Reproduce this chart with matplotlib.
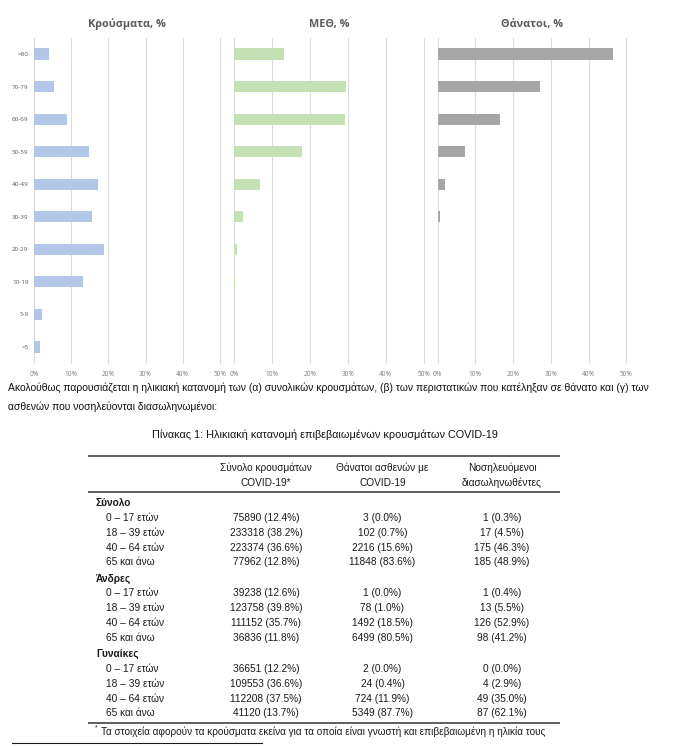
import matplotlib
matplotlib.use("Agg")
import matplotlib.pyplot as plt
from matplotlib import font_manager

# --- data -------------------------------------------------------------
age_groups = [">80", "70-79", "60-69", "50-59", "40-49", "30-39", "20-29", "10-19", "5-9", "<5"]
cases_share = [4.0, 5.4, 8.9, 14.9, 17.2, 15.7, 18.8, 13.1, 2.2, 1.6]
icu_share = [13.0, 29.4, 29.2, 18.0, 6.8, 2.2, 0.8, 0.2, 0.0, 0.0]
deaths_share = [46.4, 27.1, 16.5, 7.3, 1.9, 0.6, 0.2, 0.1, 0.0, 0.1]
x_ticks = [0, 10, 20, 30, 40, 50]

panel_titles = ["Κρούσματα, %", "ΜΕΘ, %", "Θάνατοι, %"]
panel_colors = ["#b4c6e7", "#c5e0b4", "#a6a6a6"]

paragraph = ["Ακολούθως παρουσιάζεται η ηλικιακή κατανομή των (α) συνολικών κρουσμάτων, (β) των περιστατικών που κατέληξαν σε θάνατο και (γ) των",
             "ασθενών που νοσηλεύονται διασωληνωμένοι:"]
caption = "Πίνακας 1: Ηλικιακή κατανομή επιβεβαιωμένων κρουσμάτων COVID-19"

col_headers = [["Σύνολο κρουσμάτων", "COVID-19*"],
               ["Θάνατοι ασθενών με", "COVID-19"],
               ["Νοσηλευόμενοι", "διασωληνωθέντες"]]
groups = ["Σύνολο", "Άνδρες", "Γυναίκες"]
age_rows = ["0 – 17 ετών", "18 – 39 ετών", "40 – 64 ετών", "65 και άνω"]
cases = [[75890, 233318, 223374, 77962], [39238, 123758, 111152, 36836], [36651, 109553, 112208, 41120]]
cases_pct = [[12.4, 38.2, 36.6, 12.8], [12.6, 39.8, 35.7, 11.8], [12.2, 36.6, 37.5, 13.7]]
deaths = [[3, 102, 2216, 11848], [1, 78, 1492, 6499], [2, 24, 724, 5349]]
deaths_pct = [[0.0, 0.7, 15.6, 83.6], [0.0, 1.0, 18.5, 80.5], [0.0, 0.4, 11.9, 87.7]]
icu = [[1, 17, 175, 185], [1, 13, 126, 98], [0, 4, 49, 87]]
icu_pct = [[0.3, 4.5, 46.3, 48.9], [0.4, 5.5, 52.9, 41.2], [0.0, 2.9, 35.0, 62.1]]
footnote = "Τα στοιχεία αφορούν τα κρούσματα εκείνα για τα οποία είναι γνωστή και επιβεβαιωμένη η ηλικία τους"

# --- fonts ------------------------------------------------------------
installed = {f.name for f in font_manager.fontManager.ttflist}
narrow = "Liberation Sans Narrow" if "Liberation Sans Narrow" in installed else "Liberation Sans"
NARROW = [narrow, "DejaVu Sans"]
TITLE = ["Open Sans", "DejaVu Sans"]
PLAIN = ["Liberation Sans", "DejaVu Sans"]

W, H = 694, 747
fig = plt.figure(figsize=(W / 100, H / 100), dpi=100)


def px_axes(x0, y0, x1, y1):
    return fig.add_axes([x0 / W, 1 - y1 / H, (x1 - x0) / W, (y1 - y0) / H])


# --- bar panels -------------------------------------------------------
panel_x = [(34, 220), (234.3, 423.7), (437.7, 626.3)]
series = [cases_share, icu_share, deaths_share]
for i, (vals, (x0, x1)) in enumerate(zip(series, panel_x)):
    ax = px_axes(x0, 37.75, x1, 363.25)
    ax.barh(range(len(age_groups)), vals, height=0.34, color=panel_colors[i], zorder=2)
    ax.set_xlim(0, 50)
    ax.set_ylim(len(age_groups) - 0.5, -0.5)
    ax.set_xticks(x_ticks)
    ax.set_xticklabels([f"{t}%" for t in x_ticks], fontsize=4.7, color="#7f7f7f", family=TITLE)
    ax.grid(axis="x", color="#dcdcdc", linewidth=0.8, zorder=0)
    for gl in ax.get_xgridlines():
        gl.set_clip_on(False)
    ax.tick_params(length=0, pad=5.5)
    for s in ax.spines.values():
        s.set_visible(False)
    if i == 0:
        ax.set_yticks(range(len(age_groups)))
        ax.set_yticklabels(age_groups, fontsize=4.5, color="#595959", family=TITLE)
        ax.tick_params(axis="y", pad=4)
    else:
        ax.set_yticks([])
    ax.set_title(panel_titles[i], fontsize=7.8, fontweight="bold", color="#595959",
                 family=TITLE, pad=8)

# --- text and table overlay -------------------------------------------
ov = fig.add_axes([0, 0, 1, 1])
ov.set_xlim(0, W)
ov.set_ylim(H, 0)
ov.axis("off")

for k, line in enumerate(paragraph):
    ov.text(8, 388 + k * 19, line, fontsize=7.45, family=NARROW, color="#111111", va="center", ha="left")
ov.text(325, 435, caption, fontsize=7.8, family=NARROW, color="#111111", va="center", ha="center")

rule_x = (88, 560)
for y, lw in [(456, 1.1), (492, 1.1), (723, 1.1)]:
    ov.plot(rule_x, (y, y), color="#333333", lw=lw, solid_capstyle="butt")

col_x = [266, 382.5, 502]
for cx, hdr in zip(col_x, col_headers):
    for k, t in enumerate(hdr):
        ov.text(cx, 468 + k * 15, t, fontsize=7.3, family=NARROW, color="#1a1a1a", ha="center", va="center")

for g, name in enumerate(groups):
    gy = 503 + g * 75.5
    ov.text(96, gy, name, fontsize=7.3, family=NARROW, fontweight="bold", color="#1a1a1a", va="center")
    for r, lab in enumerate(age_rows):
        ry = gy + 15 + r * 14.8
        ov.text(106, ry, lab, fontsize=7.3, family=NARROW, color="#1a1a1a", va="center")
        cells = [f"{cases[g][r]} ({cases_pct[g][r]:.1f}%)",
                 f"{deaths[g][r]} ({deaths_pct[g][r]:.1f}%)",
                 f"{icu[g][r]} ({icu_pct[g][r]:.1f}%)"]
        for cx, c in zip(col_x, cells):
            ov.text(cx, ry, c, fontsize=7.3, family=NARROW, color="#1a1a1a", ha="center", va="center")

ov.text(95, 728, "*", fontsize=5, family=PLAIN, color="#1a1a1a", va="center")
ov.text(101, 732, footnote, fontsize=7.2, family=PLAIN, color="#1a1a1a", va="center")
ov.plot((12, 262), (743, 743), color="#1a1a1a", lw=0.8)

fig.savefig("out.png", dpi=100, facecolor="white")
